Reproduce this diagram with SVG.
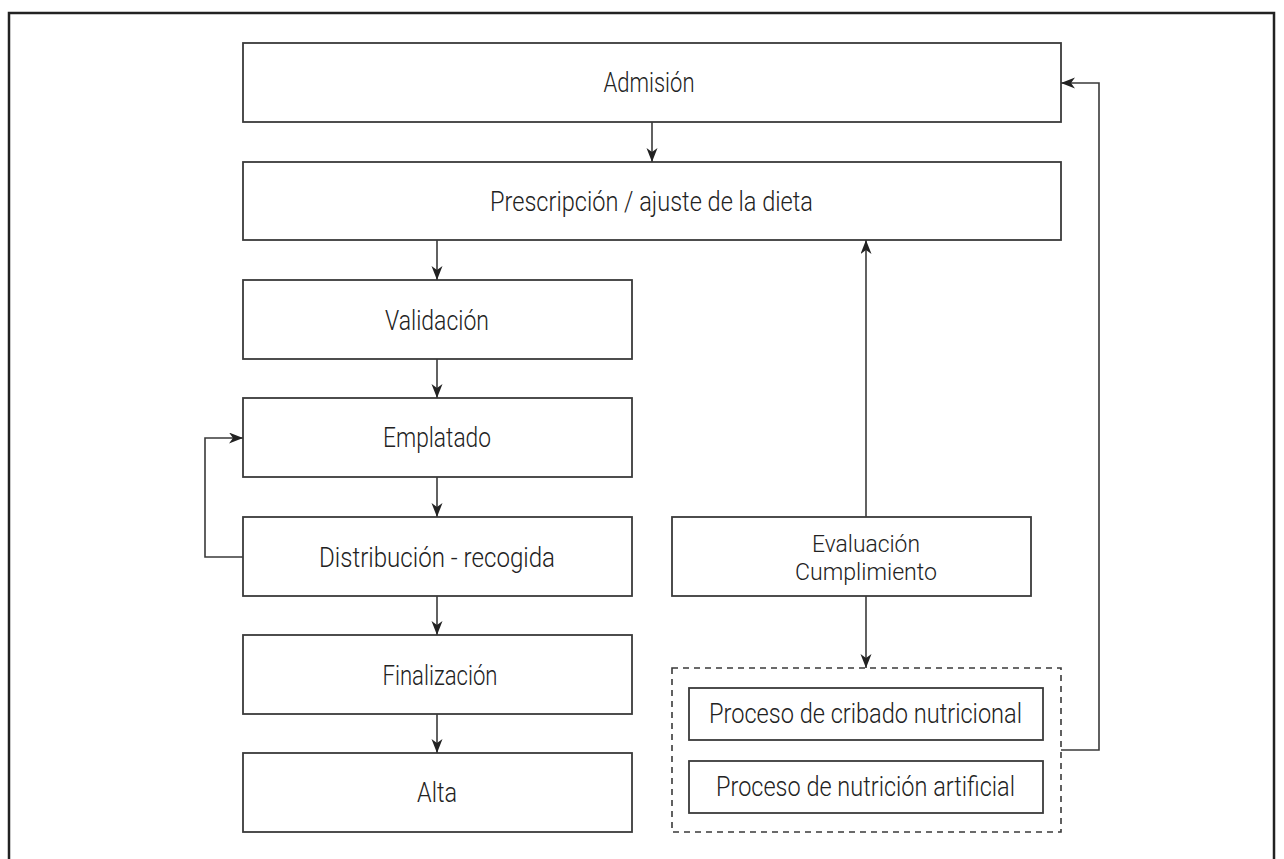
<svg xmlns="http://www.w3.org/2000/svg" width="1284" height="859" viewBox="0 0 1284 859">
<defs>
<marker id="ah" markerWidth="15" markerHeight="12" refX="14" refY="5.5" orient="auto" markerUnits="userSpaceOnUse">
<path d="M0,0 L14,5.5 L0,11 L4,5.5 Z" fill="#222"/>
</marker>
<style>
.box{fill:#fff;stroke:#3a3a3a;stroke-width:1.8}
.dash{fill:none;stroke:#3a3a3a;stroke-width:1.6;stroke-dasharray:6 5}
.con{fill:none;stroke:#3a3a3a;stroke-width:1.6}
.arr{marker-end:url(#ah)}
text{font-family:Roboto,"Liberation Sans",sans-serif;font-weight:300;font-size:27px;fill:#222;text-anchor:middle}
.two{font-size:24.5px}
</style>
</defs>
<rect x="0" y="0" width="1284" height="859" fill="#fff"/>
<rect x="9" y="13" width="1265" height="870" fill="none" stroke="#222" stroke-width="2.5"/>
<g id="admision"><rect class="box" x="243" y="43" width="818" height="79"/><text x="649" y="92" textLength="91" lengthAdjust="spacingAndGlyphs">Admisión</text></g>
<g id="prescripcion"><rect class="box" x="243" y="162" width="818" height="78"/><text x="651.5" y="211" textLength="323" lengthAdjust="spacingAndGlyphs">Prescripción / ajuste de la dieta</text></g>
<g id="validacion"><rect class="box" x="243" y="280" width="389" height="79"/><text x="437" y="330" textLength="104" lengthAdjust="spacingAndGlyphs">Validación</text></g>
<g id="emplatado"><rect class="box" x="243" y="398" width="389" height="79"/><text x="437" y="447" textLength="108" lengthAdjust="spacingAndGlyphs">Emplatado</text></g>
<g id="distribucion"><rect class="box" x="243" y="517" width="389" height="79"/><text x="437" y="567" textLength="236" lengthAdjust="spacingAndGlyphs">Distribución - recogida</text></g>
<g id="finalizacion"><rect class="box" x="243" y="635" width="389" height="79"/><text x="440" y="685" textLength="115" lengthAdjust="spacingAndGlyphs">Finalización</text></g>
<g id="alta"><rect class="box" x="243" y="753" width="389" height="79"/><text x="437" y="802" textLength="40" lengthAdjust="spacingAndGlyphs">Alta</text></g>
<g id="evaluacion"><rect class="box" x="672" y="517" width="359" height="79"/><text class="two" x="866" y="552" textLength="108" lengthAdjust="spacingAndGlyphs">Evaluación</text><text class="two" x="866" y="580" textLength="142" lengthAdjust="spacingAndGlyphs">Cumplimiento</text></g>
<g id="procesos"><rect class="dash" x="672" y="668" width="389" height="164"/>
<g id="cribado"><rect class="box" x="689" y="688" width="354" height="52"/><text x="865.5" y="723" textLength="313" lengthAdjust="spacingAndGlyphs">Proceso de cribado nutricional</text></g>
<g id="nutricion"><rect class="box" x="689" y="761" width="354" height="52"/><text x="865.5" y="796" textLength="299" lengthAdjust="spacingAndGlyphs">Proceso de nutrición artificial</text></g>
</g>
<g id="connectors">
<line class="con arr" x1="652" y1="122" x2="652" y2="162"/>
<line class="con arr" x1="437" y1="240" x2="437" y2="280"/>
<line class="con arr" x1="437" y1="359" x2="437" y2="398"/>
<line class="con arr" x1="437" y1="477" x2="437" y2="517"/>
<line class="con arr" x1="437" y1="596" x2="437" y2="635"/>
<line class="con arr" x1="437" y1="714" x2="437" y2="753"/>
<polyline class="con arr" points="243,557 205,557 205,438 243,438"/>
<line class="con arr" x1="866" y1="517" x2="866" y2="240"/>
<line class="con arr" x1="866" y1="596" x2="866" y2="668"/>
<polyline class="con arr" points="1061,750 1099,750 1099,83 1061,83"/>
</g>
</svg>
